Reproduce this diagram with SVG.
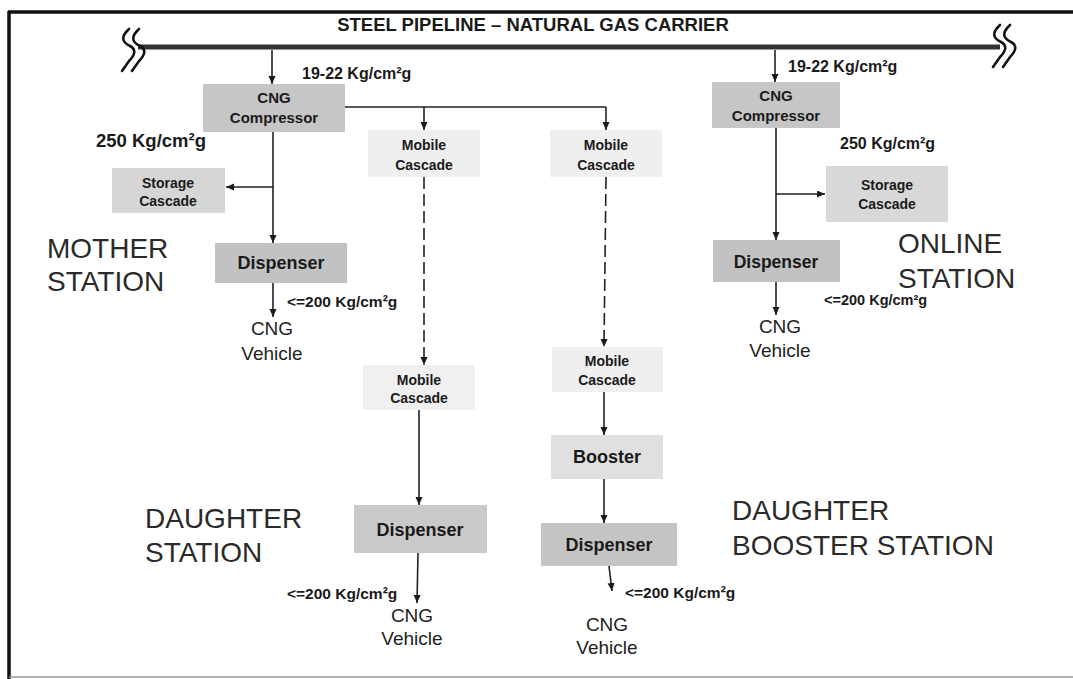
<svg xmlns="http://www.w3.org/2000/svg" width="1073" height="679" viewBox="0 0 1073 679">
<defs>
<marker id="ah" markerUnits="userSpaceOnUse" markerWidth="9" markerHeight="8" refX="8" refY="3.5" orient="auto"><path d="M0,0 L8,3.5 L0,7 z" fill="#1a1a1a"/></marker>
<style>
.t{font-family:"Liberation Sans",Arial,sans-serif;fill:#1a1a1a}
.b{font-weight:bold}
.m{text-anchor:middle}
.big{font-family:"Liberation Sans",Arial,sans-serif;font-size:28px;fill:#2a2a2a}
.cv{font-family:"Liberation Sans",Arial,sans-serif;font-size:19px;fill:#222;text-anchor:middle}
.bx{stroke:none}
.c{fill:none;stroke:#222;stroke-width:1.6;marker-end:url(#ah)}
.ln{fill:none;stroke:#222;stroke-width:1.6}
.d{stroke-dasharray:12,5}
.brk{fill:none;stroke:#111;stroke-width:2.6;stroke-linecap:round}
</style>
</defs>
<rect width="1073" height="679" fill="#fff"/>
<g id="frame">
<line x1="8" y1="12" x2="1073" y2="12" stroke="#111" stroke-width="3.5"/>
<line x1="9" y1="11" x2="9" y2="679" stroke="#111" stroke-width="3.5"/>
<line x1="9" y1="677" x2="1073" y2="677" stroke="#999" stroke-width="1.5"/>
</g>
<g id="pipeline">
<text class="t b m" x="533" y="31" font-size="18.5">STEEL PIPELINE – NATURAL GAS CARRIER</text>
<line x1="138" y1="47" x2="1000" y2="47" stroke="#333" stroke-width="5"/>
<path class="brk" d="M129,29 Q117,40 130,46 Q139,51 129,61 L122,71"/>
<path class="brk" d="M139,29 Q127,40 140,46 Q149,51 139,61 L132,71"/>
<path class="brk" d="M1000,25 Q988,36 1001,42 Q1010,47 1000,57 L993,67"/>
<path class="brk" d="M1010,25 Q998,36 1011,42 Q1020,47 1010,57 L1003,67"/>
</g>
<g id="connectors">
<path class="c" d="M272,50 V84"/>
<path class="c" d="M273,132 V243"/>
<path class="c" d="M273,187 H226"/>
<path class="c" d="M273,283 V317"/>
<path class="ln" d="M345,107 H606"/>
<path class="c" d="M424,107 V130"/>
<path class="c" d="M606,107 V130"/>
<path class="c d" d="M424,177 V365"/>
<path class="c d" d="M606,177 L604,347"/>
<path class="c" d="M419,410 V505"/>
<path class="c" d="M418,553 L417,603"/>
<path class="c" d="M604,392 V435"/>
<path class="c" d="M604,479 V523"/>
<path class="c" d="M609,566 L612,591"/>
<path class="c" d="M775,50 V82"/>
<path class="c" d="M776,128 V240"/>
<path class="c" d="M776,194 H825"/>
<path class="c" d="M776,282 V315"/>
</g>
<g id="labels">
<text class="t b" x="302" y="79" font-size="16">19-22 Kg/cm²g</text>
<text class="t b" x="788" y="72" font-size="16">19-22 Kg/cm²g</text>
<text class="t b" x="96" y="147" font-size="18.5">250 Kg/cm²g</text>
<text class="t b" x="840" y="149" font-size="16">250 Kg/cm²g</text>
<text class="t b" x="287" y="307" font-size="15.5">&lt;=200 Kg/cm²g</text>
<text class="t b" x="824" y="305" font-size="14.5">&lt;=200 Kg/cm²g</text>
<text class="t b" x="287" y="599" font-size="15.5">&lt;=200 Kg/cm²g</text>
<text class="t b" x="625" y="598" font-size="15.5">&lt;=200 Kg/cm²g</text>
</g>
<g id="mother-compressor"><rect class="bx" x="203" y="84" width="142" height="48" fill="#c6c6c6"/><text class="t b m" x="274" y="103" font-size="15">CNG</text><text class="t b m" x="274" y="123" font-size="15">Compressor</text></g>
<g id="mother-storage"><rect class="bx" x="112" y="168" width="113" height="45" fill="#d6d6d6"/><text class="t b m" x="168" y="188" font-size="14">Storage</text><text class="t b m" x="168" y="206" font-size="14">Cascade</text></g>
<g id="mother-dispenser"><rect class="bx" x="215" y="243" width="132" height="40" fill="#c2c2c2"/><text class="t b m" x="281" y="269" font-size="18">Dispenser</text></g>
<g id="mother-vehicle"><text class="cv" x="272" y="335">CNG</text><text class="cv" x="272" y="360">Vehicle</text></g>
<g id="mother-label"><text class="big" x="47" y="258" font-size="27">MOTHER</text><text class="big" x="47" y="291" font-size="27">STATION</text></g>
<g id="mobile-1"><rect class="bx" x="368" y="130" width="112" height="47" fill="#efefef"/><text class="t b m" x="424" y="150" font-size="14">Mobile</text><text class="t b m" x="424" y="170" font-size="14">Cascade</text></g>
<g id="mobile-2"><rect class="bx" x="550" y="130" width="112" height="47" fill="#efefef"/><text class="t b m" x="606" y="150" font-size="14">Mobile</text><text class="t b m" x="606" y="170" font-size="14">Cascade</text></g>
<g id="mobile-3"><rect class="bx" x="363" y="365" width="112" height="45" fill="#f0f0f0"/><text class="t b m" x="419" y="385" font-size="14">Mobile</text><text class="t b m" x="419" y="403" font-size="14">Cascade</text></g>
<g id="daughter-dispenser"><rect class="bx" x="354" y="505" width="133" height="48" fill="#c9c9c9"/><text class="t b m" x="420" y="536" font-size="18">Dispenser</text></g>
<g id="daughter-vehicle"><text class="cv" x="412" y="622">CNG</text><text class="cv" x="412" y="645">Vehicle</text></g>
<g id="daughter-label"><text class="big" x="145" y="528">DAUGHTER</text><text class="big" x="145" y="562">STATION</text></g>
<g id="mobile-4"><rect class="bx" x="552" y="347" width="111" height="45" fill="#efefef"/><text class="t b m" x="607" y="366" font-size="14">Mobile</text><text class="t b m" x="607" y="385" font-size="14">Cascade</text></g>
<g id="booster"><rect class="bx" x="551" y="435" width="112" height="44" fill="#e0e0e0"/><text class="t b m" x="607" y="463" font-size="18">Booster</text></g>
<g id="booster-dispenser"><rect class="bx" x="541" y="523" width="136" height="43" fill="#c4c4c4"/><text class="t b m" x="609" y="551" font-size="18">Dispenser</text></g>
<g id="booster-vehicle"><text class="cv" x="607" y="631">CNG</text><text class="cv" x="607" y="654">Vehicle</text></g>
<g id="booster-label"><text class="big" x="732" y="520">DAUGHTER</text><text class="big" x="732" y="555">BOOSTER STATION</text></g>
<g id="online-compressor"><rect class="bx" x="712" y="82" width="128" height="46" fill="#c6c6c6"/><text class="t b m" x="776" y="101" font-size="15">CNG</text><text class="t b m" x="776" y="121" font-size="15">Compressor</text></g>
<g id="online-storage"><rect class="bx" x="826" y="166" width="122" height="56" fill="#d8d8d8"/><text class="t b m" x="887" y="190" font-size="14">Storage</text><text class="t b m" x="887" y="209" font-size="14">Cascade</text></g>
<g id="online-dispenser"><rect class="bx" x="713" y="240" width="127" height="42" fill="#c2c2c2"/><text class="t b m" x="776" y="268" font-size="17.5">Dispenser</text></g>
<g id="online-vehicle"><text class="cv" x="780" y="333">CNG</text><text class="cv" x="780" y="357">Vehicle</text></g>
<g id="online-label"><text class="big" x="898" y="253">ONLINE</text><text class="big" x="898" y="288">STATION</text></g>
</svg>
